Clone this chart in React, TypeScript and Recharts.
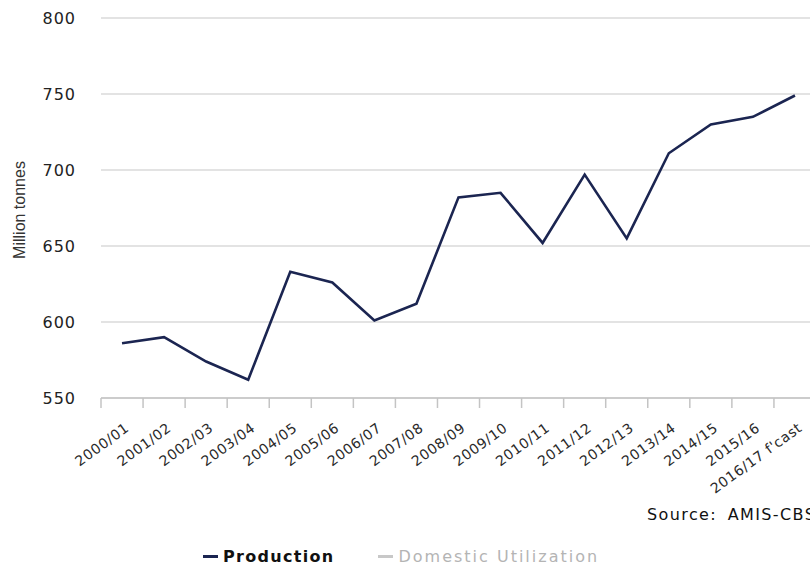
import React from "react";
import { LineChart, Line, XAxis, YAxis, CartesianGrid } from "recharts";

const categories = [
  "2000/01", "2001/02", "2002/03", "2003/04", "2004/05", "2005/06", "2006/07",
  "2007/08", "2008/09", "2009/10", "2010/11", "2011/12", "2012/13", "2013/14",
  "2014/15", "2015/16", "2016/17 f'cast",
];
const production = [586, 590, 574, 562, 633, 626, 601, 612, 682, 685, 652, 697, 655, 711, 730, 735, 749];
const yTicks = [550, 600, 650, 700, 750, 800];
const legendItems = [
  { name: "Production", color: "#1b2551", textColor: "#111", bold: true },
  { name: "Domestic Utilization", color: "#c8c8c8", textColor: "#b4b4b4", bold: false },
];
const sourceText = "Source: AMIS-CBS";
const yLabel = "Million tonnes";

const data = categories.map((c, i) => ({ name: c, production: production[i] }));

const CHART_W = 830;
const CHART_H = 566;
const MARGIN = { top: 18, right: 14, bottom: 68, left: 0 };
const Y_AXIS_W = 101;
const PLOT_W = CHART_W - MARGIN.left - MARGIN.right - Y_AXIS_W;
const STEP = PLOT_W / categories.length;
const FONT = "'DejaVu Sans', Verdana, sans-serif";

const XTick = (props: any) => {
  const { x, y, payload } = props;
  return (
    <g>
      <line x1={x - STEP / 2} x2={x - STEP / 2} y1={y} y2={y + 10} stroke="#c4c4c4" strokeWidth={1.5} />
      <g transform={`translate(${x + 8},${y + 32})`}>
        <text
          x={0}
          y={0}
          textAnchor="end"
          transform="rotate(-36)"
          fontFamily={FONT}
          fontSize={14}
          letterSpacing={0.6}
          fill="#2a2a2a"
        >
          {payload.value}
        </text>
      </g>
    </g>
  );
};

const YTick = (props: any) => {
  const { x, y, payload } = props;
  return (
    <text
      x={x - 25}
      y={y}
      dy="0.36em"
      textAnchor="end"
      fontFamily={FONT}
      fontSize={16}
      letterSpacing={1}
      fill="#222"
    >
      {payload.value}
    </text>
  );
};

export default function App() {
  return (
    <div
      style={{
        position: "absolute",
        left: 0,
        top: 0,
        width: 810,
        height: 566,
        overflow: "hidden",
        background: "#fff",
      }}
    >
      <LineChart width={CHART_W} height={CHART_H} data={data} margin={MARGIN}>
        <CartesianGrid vertical={false} stroke="#dadada" strokeWidth={1.5} />
        <XAxis
          dataKey="name"
          interval={0}
          height={100}
          padding={{ left: STEP / 2, right: STEP / 2 }}
          tickSize={0}
          tickMargin={0}
          tickLine={false}
          axisLine={{ stroke: "#c4c4c4", strokeWidth: 1.5 }}
          tick={<XTick />}
        />
        <YAxis
          domain={[550, 800]}
          ticks={yTicks}
          width={Y_AXIS_W}
          tickSize={0}
          tickMargin={0}
          tickLine={false}
          axisLine={false}
          tick={<YTick />}
        />
        <Line
          type="linear"
          dataKey="production"
          stroke="#1b2551"
          strokeWidth={2.6}
          dot={false}
          isAnimationActive={false}
        />
      </LineChart>
      <div
        style={{
          position: "absolute",
          left: 8,
          top: 210,
          transform: "translate(-50%, -50%) rotate(-90deg)",
          transformOrigin: "center",
          marginLeft: 12,
          fontFamily: "'Liberation Sans', Arial, sans-serif",
          fontSize: 16,
          color: "#333",
          whiteSpace: "nowrap",
        }}
      >
        {yLabel}
      </div>
      <div
        style={{
          position: "absolute",
          left: 647,
          top: 505,
          fontFamily: FONT,
          fontSize: 16,
          letterSpacing: 1.4,
          wordSpacing: 4,
          color: "#111",
          whiteSpace: "nowrap",
        }}
      >
        {sourceText}
      </div>
      <div
        style={{
          position: "absolute",
          left: 203,
          top: 547,
          display: "flex",
          alignItems: "center",
          whiteSpace: "nowrap",
          fontFamily: FONT,
          fontSize: 16,
        }}
      >
        {legendItems.map((item, i) => (
          <div
            key={item.name}
            style={{ display: "flex", alignItems: "center", marginRight: i === 0 ? 44 : 0 }}
          >
            <span
              style={{
                display: "inline-block",
                width: 15,
                height: 3,
                background: item.color,
                marginRight: 5,
              }}
            />
            <span
              style={{
                color: item.textColor,
                fontWeight: item.bold ? 700 : 400,
                letterSpacing: item.bold ? 1.3 : 2,
              }}
            >
              {item.name}
            </span>
          </div>
        ))}
      </div>
    </div>
  );
}
